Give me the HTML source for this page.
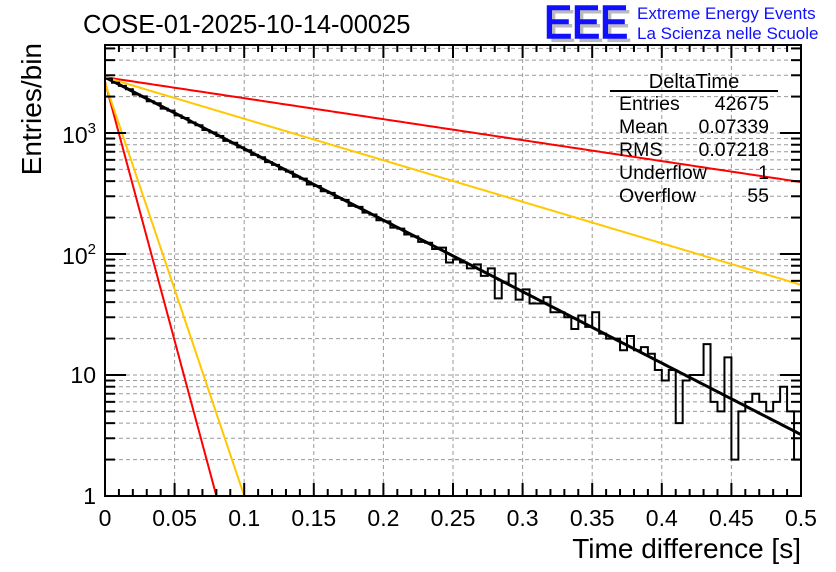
<!DOCTYPE html>
<html><head><meta charset="utf-8"><style>
html,body{margin:0;padding:0;background:#fff;}
svg{display:block;font-family:"Liberation Sans",Arial,sans-serif;}
</style></head><body>
<svg id="chart" width="836" height="572" viewBox="0 0 836 572">
<rect width="836" height="572" fill="#fff"/>
<text x="83" y="33" font-size="25.5">COSE-01-2025-10-14-00025</text>
<g>
<text x="548" y="42" font-size="46" fill="#bbb" textLength="84" lengthAdjust="spacingAndGlyphs">EEE</text>
<text x="544" y="38" font-size="46" fill="#1010ff" stroke="#1010ff" stroke-width="1.5" textLength="84" lengthAdjust="spacingAndGlyphs">EEE</text>
<text x="637" y="19" font-size="17" fill="#1010ff">Extreme Energy Events</text>
<text x="637" y="39" font-size="17" fill="#1010ff">La Scienza nelle Scuole</text>
</g>
<g id="grid"></g>
<g id="curves"></g>
<g id="hist"></g>
<g id="axes"></g>
<g font-size="19.5">
<text x="694" y="88" font-size="20" text-anchor="middle">DeltaTime</text>
<line x1="610" y1="91" x2="778" y2="91" stroke="#000" stroke-width="2"/>
<text x="619" y="110">Entries</text><text x="769" y="110" text-anchor="end">42675</text>
<text x="619" y="133">Mean</text><text x="769" y="133" text-anchor="end">0.07339</text>
<text x="619" y="156">RMS</text><text x="769" y="156" text-anchor="end">0.07218</text>
<text x="619" y="179">Underflow</text><text x="769" y="179" text-anchor="end">1</text>
<text x="619" y="202">Overflow</text><text x="769" y="202" text-anchor="end">55</text>
</g>
<text x="801" y="558" font-size="28" text-anchor="end">Time difference [s]</text>
<text transform="translate(41,43) rotate(-90)" font-size="28" text-anchor="end">Entries/bin</text>
</svg>
<script>
const binCounts = [2810,2600,2450,2300,2080,2010,1830,1760,1590,1530,1400,1330,1220,1160,1060,1010,945,860,830,760,720,660,630,575,545,500,480,435,420,375,365,330,320,290,280,250,245,220,212,190,186,165,162,145,140,126,124,110,
113,85,90,85,76,82,66,76,43,58,69,42,51,39,39,44,33,33,30,24,31,25,33,22,20,20,16,21,16,17,15,
11,9,11,4,9,10,10,18,6,5,14,2,5,6,7,6,5,6,8,5,2];
const binWidth = 0.005;
const xTicks = [0,0.05,0.1,0.15,0.2,0.25,0.3,0.35,0.4,0.45,0.5];
const xTickLabels = ["0","0.05","0.1","0.15","0.2","0.25","0.3","0.35","0.4","0.45","0.5"];
const yDecades = [1,10,100,1000];
const yTickLabels = ["1","10","10²","10³"];
const fitAmps = [2890,2890,2890,2650,2600];
const fitRates = [13.6,3.99,7.9,98.5,78.6];
const fitColors = ["#000","#ff0000","#ffc800","#ff0000","#ffc800"];
const X0=105,X1=801,Y0=496,YT=45,DEC=121;
const NS="http://www.w3.org/2000/svg";
const xs=t=>X0+(X1-X0)*t/0.5;
const ys=v=>Y0-DEC*Math.log10(v);
function mk(tag,attrs,parent){const e=document.createElementNS(NS,tag);for(const k in attrs)e.setAttribute(k,attrs[k]);parent.appendChild(e);return e;}
const grid=document.getElementById('grid'),axes=document.getElementById('axes'),curves=document.getElementById('curves'),hist=document.getElementById('hist');
xTicks.forEach((t,i)=>{if(i==0||i==xTicks.length-1)return;const l=mk('line',{x1:xs(t),x2:xs(t),y1:YT,y2:Y0,stroke:'#999','stroke-dasharray':'4,3','stroke-width':1},grid);

});
for(let d=1;d<=1000;d*=10){for(let m=1;m<=9;m++){const v=d*m;const y=ys(v);if(y<YT||v==1)continue;const l=mk('line',{x1:X0,x2:X1,y1:y,y2:y,stroke:'#999','stroke-dasharray':'4,3','stroke-width':1},grid);

}}
fitAmps.forEach((A,k)=>{let pts=[];for(let j=0;j<=400;j++){const t=0.5*j/400;const v=A*Math.exp(-fitRates[k]*t);if(v<1){pts.push([xs(Math.log(A)/fitRates[k]),Y0]);break;}pts.push([xs(t),ys(v)]);}
const p=mk('polyline',{points:pts.map(p=>p.join(',')).join(' '),fill:'none',stroke:fitColors[k],'stroke-width':k==0?3:2},curves);

});
let d='';binCounts.forEach((c,i)=>{const xa=xs(i*binWidth),xb=xs((i+1)*binWidth),y=ys(Math.max(c,1));d+=(i==0?'M'+xa+','+y:'L'+xa+','+y)+'L'+xb+','+y;});
const h=mk('path',{d:d,fill:'none',stroke:'#000','stroke-width':2},hist);


const fr=mk('rect',{x:X0,y:YT,width:X1-X0,height:Y0-YT,fill:'none',stroke:'#000','stroke-width':2},axes);


for(let j=0;j<=50;j++){const x=xs(j*0.01);const L=(j%5==0)?13:7;mk('line',{x1:x,x2:x,y1:Y0,y2:Y0-L,stroke:'#000','stroke-width':2},axes);mk('line',{x1:x,x2:x,y1:YT,y2:YT+L,stroke:'#000','stroke-width':2},axes);}
xTicks.forEach((t,i)=>{const tx=mk('text',{x:xs(t),y:526,'font-size':23,'text-anchor':'middle'},axes);tx.textContent=xTickLabels[i];

});
for(let dd=1;dd<=1000;dd*=10){for(let m=1;m<=9;m++){const y=ys(dd*m);if(y<YT)continue;const L=m==1?21:10;mk('line',{x1:X0,x2:X0+L,y1:y,y2:y,stroke:'#000','stroke-width':2},axes);mk('line',{x1:X1,x2:X1-L,y1:y,y2:y,stroke:'#000','stroke-width':2},axes);}}
yDecades.forEach((v,i)=>{const y=ys(v);let tx;
if(i<2){tx=mk('text',{x:96,y:y+8,'font-size':23,'text-anchor':'end'},axes);tx.textContent=yTickLabels[i];}
else{tx=mk('text',{x:96,y:y+10,'font-size':23,'text-anchor':'end'},axes);tx.textContent='';const a=mk('tspan',{},tx);a.textContent='10';const b=mk('tspan',{dy:-10,'font-size':15},tx);b.textContent=String(i);}

});
</script>
</body></html>
